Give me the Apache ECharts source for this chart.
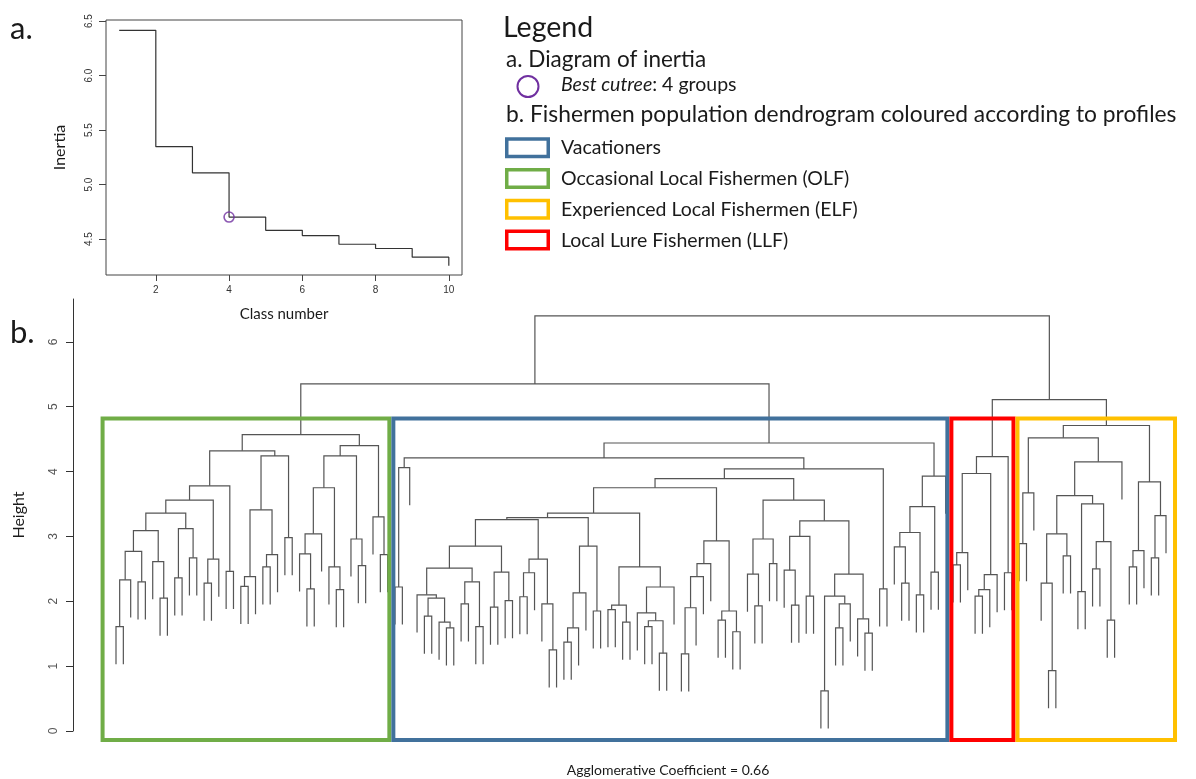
<!DOCTYPE html>
<html>
<head>
<meta charset="utf-8">
<title>Inertia and fishermen dendrogram</title>
<script src="https://cdn.jsdelivr.net/npm/echarts@6/dist/echarts.min.js"></script>
<style>
html, body { margin: 0; padding: 0; background: #fff; }
#chart { width: 1196px; height: 779px; }
</style>
</head>
<body>
<div id="chart"></div>
<script>
// a. diagram of inertia
const classNumbers = [1, 2, 3, 4, 5, 6, 7, 8, 9, 10];
const inertiaValues = [6.415, 5.348, 5.108, 4.702, 4.580, 4.532, 4.452, 4.413, 4.334, 4.254];
const bestCut = 4;
const inertiaTicksX = [2, 4, 6, 8, 10];
const inertiaTicksY = [4.5, 5.0, 5.5, 6.0, 6.5];

// b. dendrogram, a node is [height, left, right] and 0 is a leaf
const olfTree = [4.57,
  [4.32,
    [3.78,
      [3.56,
        [3.36,
          [3.09,
            [2.77, [2.33, [1.61, 0, 0], 0], [2.30, 0, 0]],
            [2.61, 0, [2.05, 0, 0]]],
          [3.12, [2.36, 0, 0], [2.67, 0, 0]]],
        [2.65, [2.28, 0, 0], 0]],
      [2.46, 0, 0]],
    [4.24,
      [3.41, [2.38, [2.23, 0, 0], 0], [2.72, [2.53, 0, 0], 0]],
      [2.98, 0, 0]]],
  [4.40,
    [4.24,
      [3.75,
        [3.04, [2.73, 0, [2.19, 0, 0]], 0],
        [2.53, 0, [2.18, 0, 0]]],
      [2.96, 0, [2.55, 0, 0]]],
    [3.30, 0, [2.72, 0, 0]]]];

const vacTree = [4.44,
  [4.21,
    [4.06, [2.22, 0, 0], 0],
    [4.04,
      [3.89,
        [3.75,
          [3.36,
            [3.29,
              [3.26,
                [2.85,
                  [2.51,
                    [2.10, 0, [2.05, [1.77, 0, 0], [1.68, 0, [1.59, 0, 0]]]],
                    [2.30, [1.96, 0, 0], [1.61, 0, 0]]],
                  [2.45, [1.91, 0, 0], [2.01, 0, 0]]],
                [2.65, [2.44, [2.07, 0, 0], 0], [1.96, 0, [1.25, 0, 0]]]],
              [2.85, [2.13, [1.59, [1.37, 0, 0], 0], 0], [1.85, 0, 0]]],
            [2.53,
              [1.94, [1.87, 0, 0], [1.68, 0, 0]],
              [2.22, [1.82, 0, [1.70, [1.61, 0, 0], [1.20, 0, 0]]], 0]]],
          [2.93,
            [2.58, [2.38, [1.90, [1.19, 0, 0], 0], 0], 0],
            [1.85, [1.71, 0, 0], [1.53, 0, 0]]]],
        [3.56,
          [2.96, [2.42, 0, [1.93, 0, 0]], [2.58, 0, 0]],
          [3.24,
            [3.00, [2.48, 0, [1.94, 0, 0]], [2.08, 0, 0]],
            [2.42,
              [2.08, [0.62, 0, 0], [1.96, [1.59, 0, 0], 0]],
              [1.73, 0, [1.51, 0, 0]]]]]],
      [2.19, 0, 0]]],
  [3.93,
    [3.46,
      [3.06, [2.84, 0, [2.28, 0, 0]], [2.10, 0, 0]],
      [2.45, 0, 0]],
    0]];

const llfTree = [4.23,
  [3.97,
    [2.75, [2.56, 0, 0], 0],
    [2.41, [2.18, [2.08, 0, 0], 0], 0]],
  [2.44, 0, 0]];

const elfTree = [4.71,
  [4.52,
    [3.67, [2.89, 0, 0], 0],
    [4.15,
      [3.63,
        [3.04, [2.28, 0, [0.93, 0, 0]], [2.70, 0, 0]],
        [3.50, [2.15, 0, 0], [2.92, [2.50, 0, 0], [1.71, 0, 0]]]],
      0]],
  [3.84,
    [2.78, [2.53, 0, 0], 0],
    [3.32, [2.67, 0, 0], 0]]];

const olfVacHeight = 5.35;
const llfElfHeight = 5.11;
const rootHeight = 6.40;
const hangHeight = 0.58;
const heightTicks = [0, 1, 2, 3, 4, 5, 6];
const agglomerativeCoef = 0.66;

const groupNames = ['Vacationers', 'Occasional Local Fishermen (OLF)', 'Experienced Local Fishermen (ELF)', 'Local Lure Fishermen (LLF)'];
const groupColors = ['#41719C', '#70AD47', '#FFC000', '#FF0000'];

// lay the tree out like plot.hclust: leaves 1..n, node x = mean of children
let leafCount = 0;
const links = [];
function join(l, r, h) {
  links.push([l.x, r.x, h, l.h === null ? h - hangHeight : l.h, r.h === null ? h - hangHeight : r.h]);
  return { x: (l.x + r.x) / 2, h: h, first: l.first, last: r.last };
}
function layout(node) {
  if (node === 0) {
    leafCount++;
    return { x: leafCount, h: null, first: leafCount, last: leafCount };
  }
  return join(layout(node[1]), layout(node[2]), node[0]);
}
const olf = layout(olfTree);
const vac = layout(vacTree);
const leftTop = join(olf, vac, olfVacHeight);
const llf = layout(llfTree);
const elf = layout(elfTree);
const rightTop = join(llf, elf, llfElfHeight);
join(leftTop, rightTop, rootHeight);

// boxes: [first leaf - pad, last leaf + pad, colour index]
const boxes = [
  [olf.first - 2.1, olf.last + 0.5, 1],
  [vac.first - 0.5, vac.last + 0.5, 0],
  [llf.first - 0.5, llf.last + 0.5, 3],
  [elf.first - 0.5, elf.last + 1.5, 2]
];
const boxTop = 4.85, boxBottom = -0.17;

const chartDom = document.getElementById('chart');
const myChart = echarts.init(chartDom);

const sans = 'Lato';
const rFont = 'Liberation Sans';

function txt(x, y, text, size, extra) {
  return {
    type: 'text', x: x, y: y,
    style: Object.assign({ text: text, fontFamily: sans, fontSize: size, fill: '#1a1a1a', verticalAlign: 'middle' }, extra || {})
  };
}

const graphics = [
  txt(10, 29, 'a.', 31),
  txt(10, 333, 'b.', 31),
  txt(503, 28, 'Legend', 28.5),
  txt(506, 59.5, 'a. Diagram of inertia', 22.5),
  {
    type: 'circle', shape: { cx: 528, cy: 86.5, r: 10.5 },
    style: { fill: 'none', stroke: '#7030A0', lineWidth: 2 }
  },
  txt(561, 84.8, '{i|Best cutree}: 4 groups', 19.5, {
    rich: { i: { fontStyle: 'italic', fontFamily: sans, fontSize: 19.5, fill: '#1a1a1a' } }
  }),
  txt(506, 114.3, 'b. Fishermen population dendrogram coloured according to profiles', 22.8),
  txt(668, 770, 'Agglomerative Coefficient = ' + agglomerativeCoef.toFixed(2), 14, { align: 'center' })
];
groupNames.forEach(function (name, i) {
  const cy = 147.8 + i * 30.7;
  graphics.push({
    type: 'rect', shape: { x: 506.75, y: cy - 8.75, width: 41.5, height: 17.5 },
    style: { fill: '#fff', stroke: groupColors[i], lineWidth: 3.5 }
  });
  graphics.push(txt(561, cy + 0.4, name, 19.5));
});

const option = {
  animation: false,
  backgroundColor: '#fff',
  graphic: graphics,
  grid: [
    { left: 106, top: 20, width: 356, height: 255, show: true, borderColor: '#444', borderWidth: 1, backgroundColor: 'transparent' },
    { left: 116, top: 299, width: 1050, height: 432 }
  ],
  xAxis: [
    {
      type: 'value', gridIndex: 0, min: 0.64, max: 10.36,
      axisLine: { show: false }, splitLine: { show: false },
      axisTick: { customValues: inertiaTicksX, length: 6, lineStyle: { color: '#444' } },
      axisLabel: { customValues: inertiaTicksX, fontSize: 10, color: '#333', fontFamily: rFont, margin: 10 },
      name: 'Class number', nameLocation: 'middle', nameGap: 32,
      nameTextStyle: { fontSize: 15, fontFamily: sans, color: '#1a1a1a' }
    },
    { type: 'value', gridIndex: 1, min: 1, max: leafCount, show: false }
  ],
  yAxis: [
    {
      type: 'value', gridIndex: 0, min: 4.17, max: 6.51,
      axisLine: { show: false }, splitLine: { show: false },
      axisTick: { show: true, customValues: inertiaTicksY, length: 7, lineStyle: { color: '#444' } },
      axisLabel: { customValues: inertiaTicksY, rotate: 90, fontSize: 10, color: '#333', fontFamily: rFont, margin: 12,
        formatter: function (v) { return v.toFixed(1); } },
      name: 'Inertia', nameLocation: 'middle', nameGap: 38, nameRotate: 90,
      nameTextStyle: { fontSize: 16, fontFamily: sans, color: '#1a1a1a' }
    },
    {
      type: 'value', gridIndex: 1, min: 0, max: 6.66, offset: 43,
      axisLine: { show: true, lineStyle: { color: '#333', width: 1 } },
      splitLine: { show: false },
      axisTick: { show: true, customValues: heightTicks, length: 7, lineStyle: { color: '#333' } },
      axisLabel: { customValues: heightTicks, rotate: 90, fontSize: 12, color: '#555', fontFamily: rFont, margin: 13 },
      name: 'Height', nameLocation: 'middle', nameGap: 46, nameRotate: 90,
      nameTextStyle: { fontSize: 16, fontFamily: sans, color: '#1a1a1a' }
    }
  ],
  series: [
    {
      type: 'line', xAxisIndex: 0, yAxisIndex: 0, step: 'end', symbol: 'none',
      lineStyle: { color: '#333', width: 1.2 },
      data: classNumbers.map(function (c, i) { return [c, inertiaValues[i]]; })
    },
    {
      type: 'scatter', xAxisIndex: 0, yAxisIndex: 0, symbol: 'circle', symbolSize: 10,
      itemStyle: { color: 'rgba(0,0,0,0)', borderColor: '#7030A0', borderWidth: 1.6 },
      data: [[bestCut, inertiaValues[bestCut - 1]]], z: 5
    },
    {
      type: 'custom', xAxisIndex: 1, yAxisIndex: 1,
      encode: { x: [0, 1], y: [2, 3, 4] },
      renderItem: function (params, api) {
        const a = api.coord([api.value(0), api.value(3)]);
        const b = api.coord([api.value(0), api.value(2)]);
        const c = api.coord([api.value(1), api.value(2)]);
        const d = api.coord([api.value(1), api.value(4)]);
        return { type: 'polyline', shape: { points: [a, b, c, d] }, style: { stroke: '#555', lineWidth: 1.2, fill: null } };
      },
      data: links
    },
    {
      type: 'custom', xAxisIndex: 1, yAxisIndex: 1, z: 5,
      encode: { x: [0, 1] },
      renderItem: function (params, api) {
        const p0 = api.coord([api.value(0), boxTop]);
        const p1 = api.coord([api.value(1), boxBottom]);
        const lw = 4;
        return {
          type: 'rect',
          shape: { x: p0[0] + lw / 2, y: p0[1] + lw / 2, width: p1[0] - p0[0] - lw, height: p1[1] - p0[1] - lw },
          style: { stroke: groupColors[api.value(2)], lineWidth: lw, fill: null }
        };
      },
      data: boxes
    }
  ]
};
option && myChart.setOption(option);
window.addEventListener('resize', myChart.resize);
</script>
</body>
</html>
